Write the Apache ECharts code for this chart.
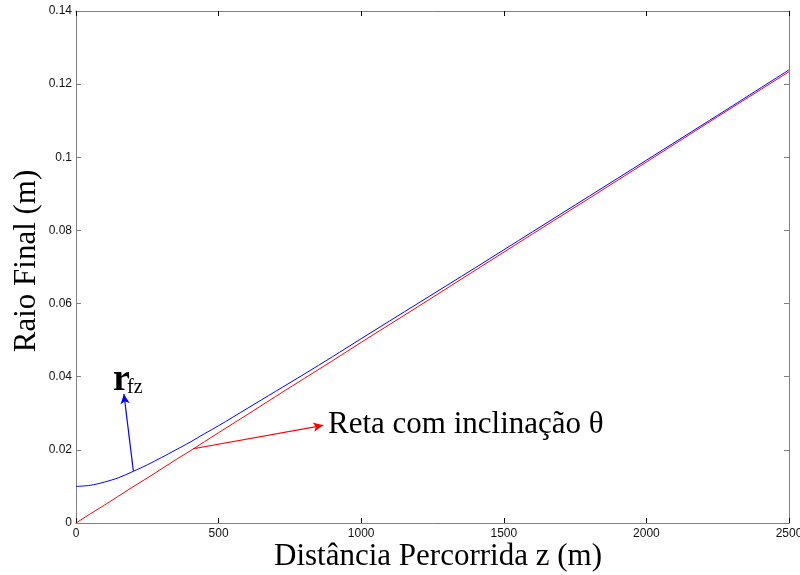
<!DOCTYPE html>
<html>
<head>
<meta charset="utf-8">
<script src="https://cdn.jsdelivr.net/npm/echarts@6/dist/echarts.min.js"></script>
<style>html,body{margin:0;padding:0;background:#fff}#c{width:800px;height:575px}</style>
</head>
<body>
<div id="c"></div>
<script>
var zValues = [0, 50, 100, 150, 200, 250, 300, 350, 400, 450, 500, 600, 700, 800, 900, 1000, 1200, 1400, 1600, 1800, 2000, 2250, 2500];
var rfzValues = [0.0100, 0.0103, 0.0112, 0.0124, 0.0141, 0.0159, 0.0179, 0.0200, 0.0221, 0.0244, 0.0266, 0.0313, 0.0360, 0.0407, 0.0455, 0.0504, 0.0601, 0.0698, 0.0796, 0.0894, 0.0992, 0.1115, 0.1239];
var retaValues = [0, 0.0025, 0.0049, 0.0074, 0.0099, 0.0123, 0.0148, 0.0173, 0.0197, 0.0222, 0.0247, 0.0296, 0.0346, 0.0395, 0.0444, 0.0494, 0.0592, 0.0691, 0.0790, 0.0888, 0.0987, 0.1111, 0.1234];
var xTicks = [0, 500, 1000, 1500, 2000, 2500];
var yTicks = [0, 0.02, 0.04, 0.06, 0.08, 0.1, 0.12, 0.14];
var blueArrow = [[201, 0.0143], [168, 0.0353]];
var redArrow = [[411, 0.0203], [867, 0.0267]];
var xTitle = 'Distância Percorrida z (m)';
var yTitle = 'Raio Final (m)';
var retaLabel = 'Reta com inclinação θ';

function pairs(xs, ys) { return xs.map(function (x, i) { return [x, ys[i]]; }); }

var chart = echarts.init(document.getElementById('c'), null, {renderer: 'canvas'});
var tickLabel = {color: '#111', fontFamily: '"Liberation Sans", Arial, sans-serif', fontSize: 12};
var axisLineStyle = {color: '#808080', width: 1};
function xAxisDef(pos, showLabel) {
  return {type: 'value', position: pos, min: xTicks[0], max: xTicks[xTicks.length - 1], interval: 500,
    axisLine: {show: true, onZero: false, lineStyle: axisLineStyle},
    axisTick: {show: true, inside: true, length: 5, lineStyle: {color: '#000'}},
    axisLabel: Object.assign({show: showLabel, margin: 5, formatter: function (v) { return String(v); }}, tickLabel),
    splitLine: {show: false}};
}
function yAxisDef(pos, showLabel) {
  return {type: 'value', position: pos, min: yTicks[0], max: yTicks[yTicks.length - 1], interval: 0.02,
    axisLine: {show: true, onZero: false, lineStyle: axisLineStyle},
    axisTick: {show: true, inside: true, length: 5, lineStyle: {color: '#808080'}},
    axisLabel: Object.assign({show: showLabel, margin: 4, formatter: function (v) { return String(+v.toFixed(4)); }}, tickLabel),
    splitLine: {show: false}};
}
var serif = '"Liberation Serif", "Times New Roman", serif';
chart.setOption({
  animation: false,
  backgroundColor: '#fff',
  grid: {left: 76, right: 11, top: 11, bottom: 52, containLabel: false, outerBoundsMode: 'none'},
  xAxis: [xAxisDef('bottom', true), xAxisDef('top', false)],
  yAxis: [yAxisDef('left', true), yAxisDef('right', false)],
  series: [
    {type: 'line', name: 'rfz', data: pairs(zValues, rfzValues), showSymbol: false, symbol: 'none', smooth: 0.3,
      lineStyle: {color: '#0000ff', width: 1}, z: 2,
      markLine: {silent: true, symbol: ['none', 'arrow'], symbolSize: [7, 10],
        label: {show: false}, lineStyle: {color: '#0000ff', width: 1.2, type: 'solid'},
        data: [[{coord: blueArrow[0]}, {coord: blueArrow[1]}]]}},
    {type: 'line', name: 'reta', data: pairs(zValues, retaValues), showSymbol: false, symbol: 'none',
      lineStyle: {color: '#ff0000', width: 1}, z: 3,
      markLine: {silent: true, symbol: ['none', 'arrow'], symbolSize: [7, 10],
        label: {show: false}, lineStyle: {color: '#ff0000', width: 1.2, type: 'solid'},
        data: [[{coord: redArrow[0]}, {coord: redArrow[1]}]]}}
  ],
  graphic: [
    {type: 'text', x: 438, y: 557, style: {text: xTitle, font: '31px ' + serif, fill: '#000', align: 'center', verticalAlign: 'middle'}},
    {type: 'text', x: 27, y: 261, rotation: Math.PI / 2, style: {text: yTitle, font: '31px ' + serif, fill: '#000', align: 'center', verticalAlign: 'middle'}},
    {type: 'text', x: 328, y: 425, style: {text: retaLabel, font: '31px ' + serif, fill: '#000', align: 'left', verticalAlign: 'middle'}},
    {type: 'text', x: 113, y: 380, style: {text: 'r', font: 'bold 38px ' + serif, fill: '#000', align: 'left', verticalAlign: 'middle'}},
    {type: 'text', x: 127, y: 388, style: {text: 'fz', font: '20px ' + serif, fill: '#000', align: 'left', verticalAlign: 'middle'}}
  ]
});
</script>
</body>
</html>
